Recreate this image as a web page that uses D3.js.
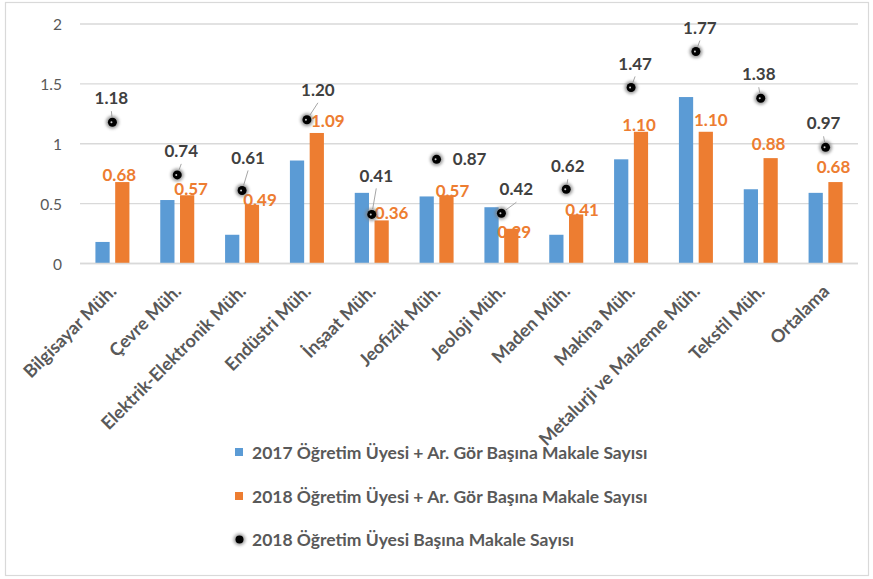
<!DOCTYPE html>
<html>
<head>
<meta charset="utf-8">
<script src="https://cdn.jsdelivr.net/npm/d3@7/dist/d3.min.js"></script>
<style>
  html, body { margin: 0; padding: 0; background: #ffffff; }
  svg { display: block; }
  text { font-family: Lato, "Open Sans", "Liberation Sans", sans-serif; }
</style>
</head>
<body>
<svg id="chart" width="873" height="579"></svg>
<script>
// ---------- DATA ----------
const categories = [
  "Bilgisayar Müh.", "Çevre Müh.", "Elektrik-Elektronik Müh.", "Endüstri Müh.",
  "İnşaat Müh.", "Jeofizik Müh.", "Jeoloji Müh.", "Maden Müh.", "Makina Müh.",
  "Metalurji ve Malzeme Müh.", "Tekstil Müh.", "Ortalama"
];
const values2017 = [0.18, 0.53, 0.24, 0.86, 0.59, 0.56, 0.47, 0.24, 0.87, 1.39, 0.62, 0.59];
const values2018 = [0.68, 0.57, 0.49, 1.09, 0.36, 0.57, 0.29, 0.41, 1.10, 1.10, 0.88, 0.68];
const valuesFaculty2018 = [1.18, 0.74, 0.61, 1.20, 0.41, 0.87, 0.42, 0.62, 1.47, 1.77, 1.38, 0.97];
const yTicks = [0, 0.5, 1, 1.5, 2];
const tickLabels = ["0", "0.5", "1", "1.5", "2"];
const seriesNames = [
  "2017 Öğretim Üyesi + Ar. Gör Başına Makale Sayısı",
  "2018 Öğretim Üyesi + Ar. Gör Başına Makale Sayısı",
  "2018 Öğretim Üyesi Başına Makale Sayısı"
];
const colors = ["#5B9BD5", "#ED7D31", "#000000"];

// ---------- LAYOUT (label placement offsets, not data) ----------
const orangeLabelOffsets = [[-3,-7],[4,-6],[8,-5],[11,-12],[10,-8],[6,-4],[3,3],[6,-5],[-2,-7],[5,-12],[-2,-14],[-2,-15]];
const dotLabelOffsets = [[-1,-24],[4,-24],[6,-33],[11,-30],[4.5,-39],[33,0],[15,-24],[1.5,-23],[4,-24],[4,-24],[-2,-24],[-2,-24]];

const svg = d3.select("#chart");
const plot = { left: 80, right: 858, top: 24, bottom: 263.5 };

// border
svg.append("rect").attr("x", 5.5).attr("y", 2.5).attr("width", 863).attr("height", 573)
  .attr("fill", "#fff").attr("stroke", "#d9d9d9").attr("stroke-width", 1.2);

const defs = svg.append("defs");
const f = defs.append("filter").attr("id", "glow").attr("x", "-100%").attr("y", "-100%").attr("width", "300%").attr("height", "300%");
f.append("feGaussianBlur").attr("stdDeviation", 1.4);

const x = d3.scaleBand().domain(categories).range([plot.left, plot.right]);
const y = d3.scaleLinear().domain([0, 2]).range([plot.bottom, plot.top]);
const groupW = 34;
const xSub = d3.scaleBand().domain(["s2017", "s2018"]).range([0, groupW]).paddingInner(0.28);
const cx = c => x(c) + x.bandwidth() / 2;

// gridlines
svg.append("g").selectAll("line").data(yTicks).join("line")
  .attr("x1", plot.left).attr("x2", plot.right)
  .attr("y1", d => y(d)).attr("y2", d => y(d))
  .attr("stroke", "#d9d9d9").attr("stroke-width", 1.3);

// y axis via d3 axis
const yAxis = d3.axisLeft(y).tickValues(yTicks).tickFormat((d, i) => tickLabels[i]).tickSize(0).tickPadding(0);
const gy = svg.append("g").attr("transform", `translate(${plot.left - 18},0)`).call(yAxis);
gy.select(".domain").remove();
gy.selectAll("text").attr("font-size", 15.5).attr("fill", "#595959")
  .attr("font-family", "Lato, 'Open Sans', sans-serif").attr("dy", "0.36em");

// bars
const bars = svg.append("g");
bars.selectAll("rect.b17").data(categories).join("rect").attr("class", "b17")
  .attr("x", (c) => cx(c) - groupW / 2 + xSub("s2017"))
  .attr("width", xSub.bandwidth())
  .attr("y", (c, i) => y(values2017[i]))
  .attr("height", (c, i) => y(0) - y(values2017[i]))
  .attr("fill", colors[0]);
bars.selectAll("rect.b18").data(categories).join("rect").attr("class", "b18")
  .attr("x", (c) => cx(c) - groupW / 2 + xSub("s2018"))
  .attr("width", xSub.bandwidth())
  .attr("y", (c, i) => y(values2018[i]))
  .attr("height", (c, i) => y(0) - y(values2018[i]))
  .attr("fill", colors[1]);

// baseline
svg.append("line").attr("x1", plot.left).attr("x2", plot.right)
  .attr("y1", y(0)).attr("y2", y(0)).attr("stroke", "#d9d9d9").attr("stroke-width", 1.3);

// orange labels
svg.append("g").selectAll("text").data(categories).join("text")
  .attr("x", (c, i) => cx(c) - groupW / 2 + xSub("s2018") + xSub.bandwidth() / 2 + orangeLabelOffsets[i][0])
  .attr("y", (c, i) => y(values2018[i]) + orangeLabelOffsets[i][1])
  .attr("dy", "0.36em")
  .attr("text-anchor", "middle")
  .attr("font-size", 17).attr("font-weight", "bold").attr("fill", "#ED7D31")
  .text((c, i) => values2018[i].toFixed(2));

// dots with leader lines and labels
const dg = svg.append("g");
categories.forEach((c, i) => {
  const px = cx(c), py = y(valuesFaculty2018[i]);
  const lx = px + dotLabelOffsets[i][0], ly = py + dotLabelOffsets[i][1];
  if (Math.abs(dotLabelOffsets[i][1]) > 5) {
    const sx = lx, sy = ly + 13;
    const vx = sx - px, vy = sy - py, len = Math.hypot(vx, vy);
    if (len > 8) {
      dg.append("line").attr("x1", sx).attr("y1", sy)
        .attr("x2", px + vx / len * 5.5).attr("y2", py + vy / len * 5.5)
        .attr("stroke", "#a6a6a6").attr("stroke-width", 1);
    }
  }
  dg.append("circle").attr("cx", px).attr("cy", py).attr("r", 6.5)
    .attr("fill", "#7f7f7f").attr("opacity", 0.75).attr("filter", "url(#glow)");
  dg.append("circle").attr("cx", px).attr("cy", py).attr("r", 4.5).attr("fill", "#000");
  dg.append("circle").attr("cx", px - 1).attr("cy", py).attr("r", 1).attr("fill", "#ffffff").attr("opacity", 0.8);
  dg.append("text").attr("x", lx).attr("y", ly).attr("dy", "0.36em")
    .attr("text-anchor", "middle").attr("font-size", 17).attr("font-weight", "bold")
    .attr("fill", "#404040").text(valuesFaculty2018[i].toFixed(2));
});

// x axis category labels
const xAxis = d3.axisBottom(x).tickSize(0).tickPadding(0);
const gx = svg.append("g").attr("transform", `translate(0,${plot.bottom})`).call(xAxis);
gx.select(".domain").remove();
gx.selectAll("text")
  .attr("font-size", 18).attr("font-weight", "bold").attr("fill", "#595959")
  .attr("font-family", "Lato, 'Open Sans', sans-serif")
  .attr("text-anchor", "end")
  .attr("dy", null).attr("y", null)
  .attr("transform", "translate(5,29) rotate(-45)");

// legend
const legend = svg.append("g");
const legendY = [452.5, 496.5, 539.5];
seriesNames.forEach((name, i) => {
  if (i < 2) {
    legend.append("rect").attr("x", 235).attr("y", legendY[i] - 4.5).attr("width", 8).attr("height", 8).attr("fill", colors[i]);
  } else {
    legend.append("circle").attr("cx", 239.5).attr("cy", legendY[i]).attr("r", 6).attr("fill", "#7f7f7f").attr("opacity", 0.7).attr("filter", "url(#glow)");
    legend.append("circle").attr("cx", 239.5).attr("cy", legendY[i]).attr("r", 4).attr("fill", "#000");
  }
  legend.append("text").attr("x", 252).attr("y", legendY[i]).attr("dy", "0.36em")
    .attr("font-size", 17.5).attr("font-weight", "bold").attr("fill", "#595959").text(name);
});
</script>
</body>
</html>
